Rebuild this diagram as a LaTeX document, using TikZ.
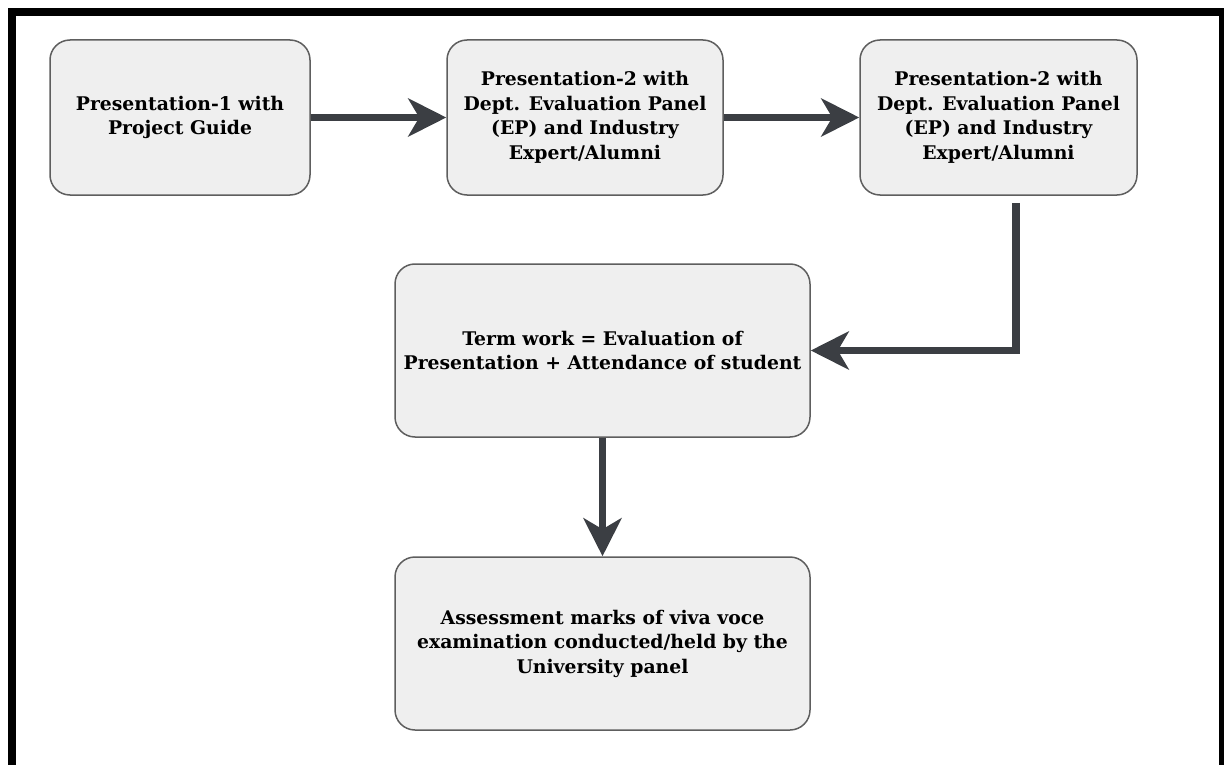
\documentclass[tikz,border=0pt]{standalone}
\usepackage{fontspec}
\setmainfont{DejaVu Serif}
\usetikzlibrary{arrows.meta}
\definecolor{boxfill}{HTML}{EFEFEF}
\definecolor{boxline}{HTML}{5E5E5E}
\definecolor{flow}{HTML}{3B3E43}
\begin{document}
\begin{tikzpicture}[x=1pt,y=-1pt,
  stepbox/.style={draw=boxline, line width=1.5pt, fill=boxfill,
    rounded corners=20pt, align=center, inner sep=0pt,
    font=\fontsize{18.8}{24.5}\selectfont\bfseries},
  flowarrow/.style={draw=flow, line width=7.5pt,
    -{Stealth[length=38pt,width=38pt,inset=11pt]}}]
\useasboundingbox (0,0) rectangle (1224,765);
% open frame, its bottom edge falls outside the page
\begin{scope}
\clip (0,0) rectangle (1224,765);
\draw[line width=8pt, black] (12,780) -- (12,12) -- (1223,12) -- (1223,780);
\end{scope}
% process steps
\node[stepbox, minimum width=260pt, minimum height=155pt] (p1) at (180,117.5)
  {Presentation-1 with\\Project Guide};
\node[stepbox, minimum width=276pt, minimum height=155pt] (p2) at (585,117.5)
  {Presentation-2 with\\Dept. Evaluation Panel\\(EP) and Industry\\Expert/Alumni};
\node[stepbox, minimum width=277pt, minimum height=155pt] (p3) at (998.5,117.5)
  {Presentation-2 with\\Dept. Evaluation Panel\\(EP) and Industry\\Expert/Alumni};
\node[stepbox, minimum width=415pt, minimum height=173pt] (tw) at (602.5,350.5)
  {Term work = Evaluation of\\Presentation + Attendance of student};
\node[stepbox, minimum width=415pt, minimum height=173pt] (vv) at (602.5,643.5)
  {Assessment marks of viva voce\\examination conducted/held by the\\University panel};
% connectors
\coordinate (bend) at (1016,350.5);
\draw[flowarrow] (p1.east) -- (p2.west);
\draw[flowarrow] (p2.east) -- (p3.west);
\draw[flowarrow] ([yshift=-7pt]p3.south -| bend) -- (bend) -- (tw.east);
\draw[flowarrow] (tw.south) -- (vv.north);
\end{tikzpicture}
\end{document}
